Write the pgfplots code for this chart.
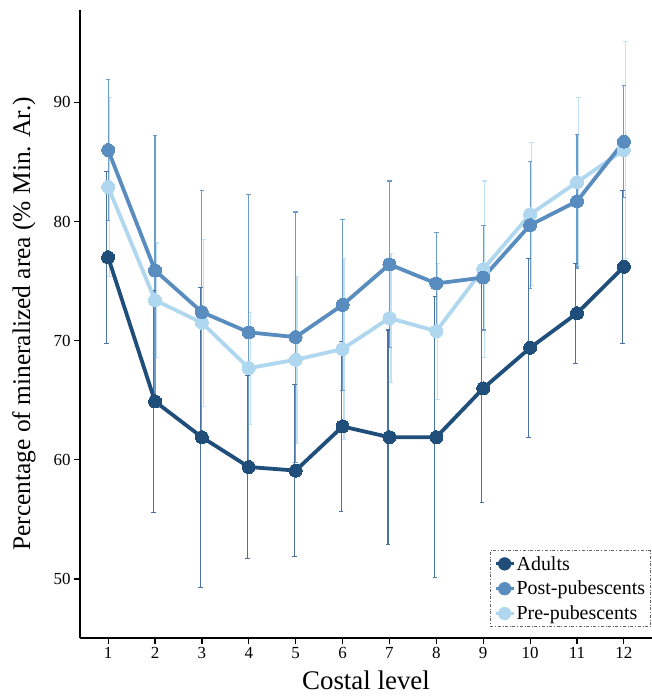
\documentclass[border=0pt]{standalone}
\usepackage{fontspec}
\setmainfont{Liberation Serif}
\usepackage{pgfplots}
\usepackage{pgfplotstable}
\pgfplotsset{compat=1.18}
\definecolor{cA}{HTML}{1F4E7A}
\definecolor{cB}{HTML}{5A8DBF}
\definecolor{cC}{HTML}{AFD7EF}
\definecolor{eA}{HTML}{4A72A2}
\definecolor{eB}{HTML}{6C9CC9}
\definecolor{eC}{HTML}{C2E2F4}
\pgfplotstableread{
x y e
1 77.0 7.2
2 64.9 9.3
3 61.9 12.6
4 59.4 7.7
5 59.1 7.2
6 62.8 7.1
7 61.9 9.0
8 61.9 11.8
9 66.0 9.6
10 69.4 7.5
11 72.3 4.2
12 76.2 6.4
}\adults
\pgfplotstableread{
x y e
1 86.0 5.9
2 75.9 11.3
3 72.4 10.2
4 70.7 11.6
5 70.3 10.5
6 73.0 7.2
7 76.4 7.0
8 74.8 4.3
9 75.3 4.4
10 79.7 5.3
11 81.7 5.6
12 86.7 4.7
}\post
\pgfplotstableread{
x y e
1 82.9 7.5
2 73.4 4.8
3 71.5 7.0
4 67.7 4.7
5 68.4 7.0
6 69.3 7.6
7 71.9 5.4
8 70.8 5.7
9 76.0 7.4
10 80.6 6.0
11 83.3 7.1
12 86.0 9.1
}\pre
\begin{document}
\begin{tikzpicture}
\begin{axis}[
  scale only axis, width=572bp, height=628bp,
  xmin=0.4, xmax=12.6, ymin=45.05, ymax=97.75,
  axis x line*=bottom, axis y line*=left,
  axis line style={line width=2.4bp, black},
  xtick={1,2,...,12}, ytick={50,60,70,80,90},
  tick align=outside, major tick length=6bp,
  tick style={black, line width=1.2bp},
  /pgf/number format/assume math mode=true,
  ticklabel style={font=\fontsize{17}{20}\selectfont},
  xlabel={Costal level},
  ylabel={Percentage of mineralized area (\% Min. Ar.)},
  xlabel style={font=\fontsize{27}{30}\selectfont, inner sep=0pt, at={(axis description cs:0.5,-0.0812)}, anchor=base},
  ylabel style={font=\fontsize{25.5}{30}\selectfont, inner sep=0pt, at={(axis description cs:-0.0874,0.5)}, anchor=base},
  legend cell align=left,
  legend style={at={(axis description cs:0.998,0.0175)}, anchor=south east,
    draw=gray!80!black, dash dot, line width=0.6bp, font=\fontsize{20}{22}\selectfont,
    row sep=6.5bp, inner sep=4bp,
    nodes={inner sep=1.5bp}},
  legend image code/.code={\draw[line width=3bp, solid, #1] (0bp,0bp) -- (18bp,0bp);
    \fill[#1] (9bp,0bp) circle (6.3bp);},
  clip=false,
]
\addlegendimage{cA}
\addlegendentry{Adults}
\addlegendimage{cB}
\addlegendentry{Post-pubescents}
\addlegendimage{cC}
\addlegendentry{Pre-pubescents}
% error bars
\addplot[draw=none, mark=*, mark size=0.01bp, mark options={draw=none, fill=none}, forget plot,
  error bars/.cd, y dir=both, y explicit, error mark=|,
  error bar style={draw=eC, solid, line width=1.3bp},
  error mark options={draw=eC, solid, mark size=2.3bp, line width=1.1bp}]
  table[x expr=\thisrow{x}+0.03, y=y, y error=e] {\pre};
\addplot[draw=none, mark=*, mark size=0.01bp, mark options={draw=none, fill=none}, forget plot,
  error bars/.cd, y dir=both, y explicit, error mark=|,
  error bar style={draw=eB, solid, line width=1.1bp},
  error mark options={draw=eB, solid, mark size=2.3bp, line width=1.1bp}]
  table[x=x, y=y, y error=e] {\post};
\addplot[draw=none, mark=*, mark size=0.01bp, mark options={draw=none, fill=none}, forget plot,
  error bars/.cd, y dir=both, y explicit, error mark=|,
  error bar style={draw=eA, solid, line width=1.1bp},
  error mark options={draw=eA, solid, mark size=2.3bp, line width=1.1bp}]
  table[x expr=\thisrow{x}-0.03, y=y, y error=e] {\adults};
% lines
\addplot[cC, line width=3.8bp, mark=*, mark size=6.5bp, mark options={fill=cC, draw=cC, line width=0bp}, forget plot]
  table[x=x, y=y] {\pre};
\addplot[cB, line width=3.8bp, mark=*, mark size=6.5bp, mark options={fill=cB, draw=cB, line width=0bp}, forget plot]
  table[x=x, y=y] {\post};
\addplot[cA, line width=3.8bp, mark=*, mark size=6.5bp, mark options={fill=cA, draw=cA, line width=0bp}, forget plot]
  table[x=x, y=y] {\adults};
\end{axis}
\pgfresetboundingbox
\path ([shift={(-80bp,-59bp)}]current axis.south west) rectangle ([shift={(0bp,10bp)}]current axis.north east);
\end{tikzpicture}
\end{document}
